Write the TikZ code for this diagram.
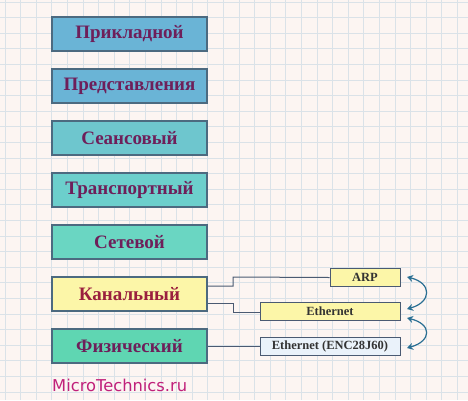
\documentclass[tikz,border=0pt]{standalone}
\usepackage{fontspec}
\setmainfont{Liberation Serif}
\newfontfamily\wmfont{DejaVu Sans}
\usetikzlibrary{arrows.meta}
\definecolor{bgc}{HTML}{FCF5F2}
\definecolor{gridc}{HTML}{DAE2E8}
\definecolor{bord}{HTML}{4C6A80}
\definecolor{lay1}{HTML}{6AB4D6}
\definecolor{lay3}{HTML}{6EC6CE}
\definecolor{lay4}{HTML}{6CCFCC}
\definecolor{lay5}{HTML}{6AD6C2}
\definecolor{lay6}{HTML}{FCF6A8}
\definecolor{lay7}{HTML}{5FD6B2}
\definecolor{txtc}{HTML}{6E1F5A}
\definecolor{txtr}{HTML}{9A1F3E}
\definecolor{linec}{HTML}{4A5A72}
\definecolor{arrc}{HTML}{2A6F93}
\definecolor{encc}{HTML}{EAF2FA}
\definecolor{wmc}{HTML}{C0207A}
\tikzset{
  layer/.style={draw=bord, line width=1.2pt, minimum width=155pt, minimum height=34pt, inner sep=0pt, font=\fontsize{19}{20}\selectfont\bfseries, text=txtc},
  proto/.style={draw=linec, line width=0.9pt, fill=lay6, minimum height=18pt, inner sep=0pt, font=\fontsize{12.5}{13}\selectfont\bfseries, text=black!80},
  conn/.style={draw=linec, line width=1pt},
  sw/.style={draw=arrc, line width=1.2pt, {Stealth[length=6pt,width=7pt]}-{Stealth[length=6pt,width=7pt]}}
}
\begin{document}
\begin{tikzpicture}[x=1pt,y=-1pt]
\fill[bgc] (0,0) rectangle (468,400);
\useasboundingbox (0,0) rectangle (468,400);
\foreach \i in {0,...,30} {
  \draw[gridc, line width=0.9pt] (5+15.6*\i,0) -- (5+15.6*\i,400);
}
\foreach \j in {0,...,26} {
  \draw[gridc, line width=0.9pt] (0,2+15.6*\j) -- (468,2+15.6*\j);
}
\node[layer, fill=lay1] (l7) at (129.5,34) {Прикладной};
\node[layer, fill=lay1] (l6) at (129.5,86) {Представления};
\node[layer, fill=lay3] (l5) at (129.5,138) {Сеансовый};
\node[layer, fill=lay4] (l4) at (129.5,190) {Транспортный};
\node[layer, fill=lay5] (l3) at (129.5,242) {Сетевой};
\node[layer, fill=lay6, text=txtr] (l2) at (129.5,294) {Канальный};
\node[layer, fill=lay7] (l1) at (129.5,346) {Физический};

\node[proto, minimum width=70pt] (arp) at (365,277.5) {ARP};
\node[proto, minimum width=140pt] (eth) at (330,311.5) {Ethernet};
\node[proto, minimum width=140pt, fill=encc] (enc) at (330,346) {Ethernet (ENC28J60)};

\draw[conn] (l2.east |- 0,286) -| (233,277) -- (arp.west);
\draw[conn] (l2.east |- 0,303) -| (233,312) -- (eth.west |- 0,312);
\draw[conn] (l1.east) -- (enc.west);

\coordinate (a1) at (407,277);
\coordinate (a2) at (407,309);
\coordinate (a3) at (407,318);
\coordinate (a4) at (407,348);
\draw[sw] (a1) .. controls (432,283) and (432,302) .. (a2);
\draw[sw] (a3) .. controls (432,324) and (432,341) .. (a4);

\node[anchor=base west, inner sep=0pt, font=\wmfont\fontsize{16.3}{17}\selectfont, text=wmc] (wm) at (52,391) {MicroTechnics.ru};
\end{tikzpicture}
\end{document}
